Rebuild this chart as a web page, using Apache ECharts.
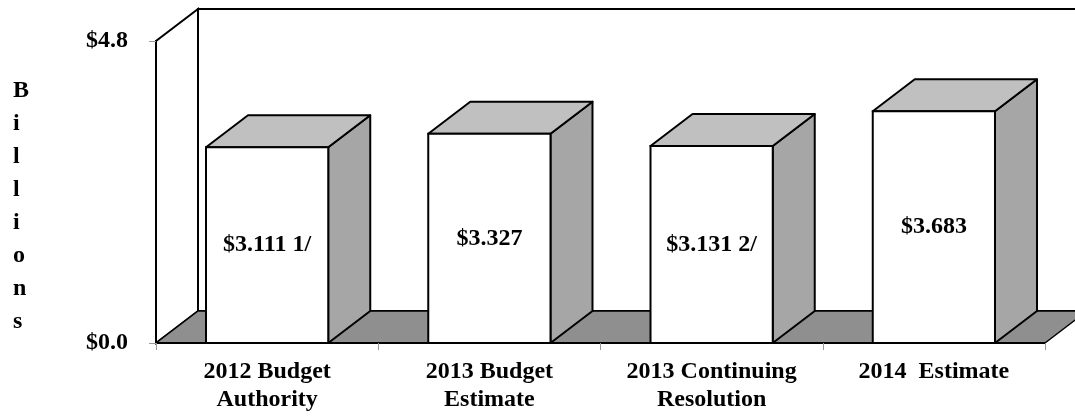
<!DOCTYPE html>
<html>
<head>
<meta charset="utf-8">
<script src="https://cdn.jsdelivr.net/npm/echarts@6/dist/echarts.min.js"></script>
<style>
  html, body { margin: 0; padding: 0; background: #fff; }
  #chart { width: 1075px; height: 416px; }
</style>
</head>
<body>
<div id="chart"></div>
<script>
// Budget authority by year, in billions of dollars
const categories = ['2012 Budget\nAuthority', '2013 Budget\nEstimate', '2013 Continuing\nResolution', '2014  Estimate'];
const amounts = [3.111, 3.327, 3.131, 3.683];
const footnotes = ['1/', '', '2/', ''];
const yTickLabels = ['$0.0', '$4.8'];
const yMin = 0;
const yMax = 4.8;
const axisTitle = 'Billions';

// 3-D look: depth offset of the box, bar width as a share of the band
const DEPTH_X = 42;
const DEPTH_Y = -32;
const BAR_RATIO = 0.55;
const FONT_FAMILY = '"Liberation Serif", "Times New Roman", serif';
const FONT_SIZE = 24;
const FONT = 'bold ' + FONT_SIZE + 'px ' + FONT_FAMILY;
const EDGE = '#000';
const FLOOR_FILL = '#8f8f8f';
const SIDE_FILL = '#a6a6a6';
const TOP_FILL = '#c0c0c0';

// Back wall, left side wall and floor of the 3-D box
function renderFrame(params, api) {
  const bw = api.size([1, 0])[0];
  const first = api.coord([0, yMin]);
  const last = api.coord([categories.length - 1, yMin]);
  const x0 = first[0] - bw / 2;
  const x1 = last[0] + bw / 2;
  const yb = first[1];
  const yt = api.coord([0, yMax])[1];
  return {
    type: 'group',
    children: [
      {
        type: 'polygon',
        shape: { points: [[x0 + DEPTH_X, yt + DEPTH_Y], [x1 + DEPTH_X, yt + DEPTH_Y], [x1 + DEPTH_X, yb + DEPTH_Y], [x0 + DEPTH_X, yb + DEPTH_Y]] },
        style: { fill: '#fff', stroke: EDGE, lineWidth: 2 }
      },
      {
        type: 'polygon',
        shape: { points: [[x0, yb], [x0, yt], [x0 + DEPTH_X, yt + DEPTH_Y], [x0 + DEPTH_X, yb + DEPTH_Y]] },
        style: { fill: '#fff', stroke: EDGE, lineWidth: 2 }
      },
      {
        type: 'polygon',
        shape: { points: [[x0, yb], [x1, yb], [x1 + DEPTH_X, yb + DEPTH_Y], [x0 + DEPTH_X, yb + DEPTH_Y]] },
        style: { fill: FLOOR_FILL, stroke: EDGE, lineWidth: 1.5, lineJoin: 'round' }
      }
    ]
  };
}

// One 3-D bar: side face, top face, front face and its value label
function renderBar(params, api) {
  const idx = api.value(0);
  const val = api.value(1);
  const base = api.coord([idx, yMin]);
  const top = api.coord([idx, val]);
  const w = api.size([1, 0])[0] * BAR_RATIO;
  const xl = base[0] - w / 2;
  const xr = base[0] + w / 2;
  const yb = base[1];
  const yt = top[1];
  const note = footnotes[idx];
  const text = '$' + val.toFixed(3) + (note ? ' ' + note : '');
  return {
    type: 'group',
    children: [
      {
        type: 'polygon',
        shape: { points: [[xr, yb], [xr, yt], [xr + DEPTH_X, yt + DEPTH_Y], [xr + DEPTH_X, yb + DEPTH_Y]] },
        style: { fill: SIDE_FILL, stroke: EDGE, lineWidth: 2, lineJoin: 'round' }
      },
      {
        type: 'polygon',
        shape: { points: [[xl, yt], [xl + DEPTH_X, yt + DEPTH_Y], [xr + DEPTH_X, yt + DEPTH_Y], [xr, yt]] },
        style: { fill: TOP_FILL, stroke: EDGE, lineWidth: 2, lineJoin: 'round' }
      },
      {
        type: 'rect',
        shape: { x: xl, y: yt, width: w, height: yb - yt },
        style: { fill: '#fff', stroke: EDGE, lineWidth: 2 }
      },
      {
        type: 'text',
        x: base[0],
        y: (yt + yb) / 2,
        style: { text: text, font: FONT, fill: '#000', align: 'center', verticalAlign: 'middle' }
      }
    ]
  };
}

const chart = echarts.init(document.getElementById('chart'), null, { renderer: 'canvas' });
chart.setOption({
  animation: false,
  backgroundColor: '#fff',
  grid: { left: 156, right: 30, top: 41, bottom: 73, containLabel: false, outerBoundsMode: 'none' },
  xAxis: {
    type: 'category',
    data: categories,
    boundaryGap: true,
    z: 10,
    axisLine: { show: true, lineStyle: { color: EDGE, width: 2 } },
    axisTick: { show: true, length: 7, lineStyle: { color: '#999', width: 1 } },
    axisLabel: {
      margin: 15,
      interval: 0,
      color: '#000',
      fontFamily: FONT_FAMILY,
      fontWeight: 'bold',
      fontSize: FONT_SIZE,
      lineHeight: 28
    },
    splitLine: { show: false }
  },
  yAxis: {
    type: 'value',
    min: yMin,
    max: yMax,
    interval: yMax,
    z: 10,
    axisLine: { show: true, lineStyle: { color: EDGE, width: 2 } },
    axisTick: { show: true, length: 7, lineStyle: { color: '#999', width: 1 } },
    axisLabel: {
      margin: 28,
      color: '#000',
      fontFamily: FONT_FAMILY,
      fontWeight: 'bold',
      fontSize: FONT_SIZE,
      formatter: function (v, i) { return yTickLabels[i]; }
    },
    splitLine: { show: false }
  },
  graphic: [
    {
      type: 'text',
      left: 13,
      top: 74,
      style: {
        text: axisTitle.split('').join('\n'),
        font: FONT,
        fill: '#000',
        lineHeight: 33,
        align: 'center'
      }
    }
  ],
  series: [
    {
      type: 'custom',
      coordinateSystem: 'cartesian2d',
      clip: false,
      z: 1,
      renderItem: renderFrame,
      data: [[0, yMax]],
      silent: true
    },
    {
      type: 'custom',
      coordinateSystem: 'cartesian2d',
      clip: false,
      z: 2,
      renderItem: renderBar,
      data: amounts.map(function (v, i) { return [i, v]; }),
      silent: true
    }
  ]
});
</script>
</body>
</html>
